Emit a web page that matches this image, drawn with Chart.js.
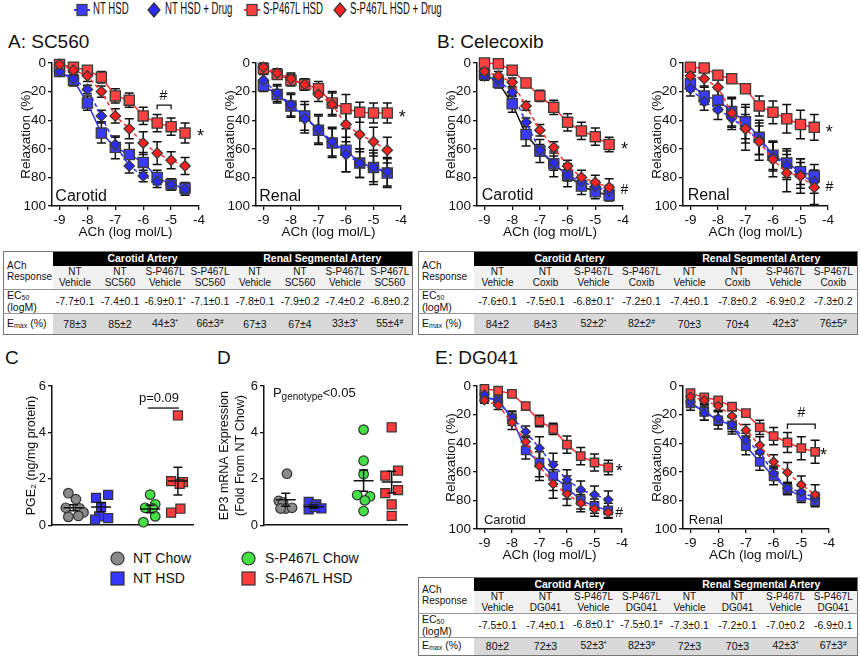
<!DOCTYPE html>
<html>
<head>
<meta charset="utf-8">
<script src="https://cdn.jsdelivr.net/npm/chart.js@4.4.1/dist/chart.umd.min.js"></script>
<style>
  body { margin: 0; width: 860px; height: 657px; position: relative; overflow: hidden; background: #fff;
         font-family: 'Liberation Sans', Arial, sans-serif; color: #111; }
  .box { position: absolute; }
  .ttl { position: absolute; font-size: 19px; white-space: nowrap; }
  .lg  { position: absolute; top: 0px; font-size: 16px; white-space: nowrap; transform: scaleX(0.6); transform-origin: 0 0; }
  .lgi { position: absolute; }
  .dl  { position: absolute; font-size: 14px; white-space: nowrap; }
  table.tb { position: absolute; border-collapse: collapse; table-layout: fixed; border: 1px solid #777;
             font-size: 10px; text-align: center; line-height: 11px; }
  table.tb td { padding: 0; border: none; overflow: hidden; white-space: nowrap; }
  table.tb td.hd { background: #000; color: #fff; font-weight: bold; font-size: 10.5px; }
  table.tb td.lab { text-align: left; padding-left: 3px; background: #fff; }
  table.tb tr.sub td.v { background: #f1f1f1; }
  table.tb tr.ec td { border-top: 1px solid #999; font-size: 10.5px; }
  table.tb tr.em td { border-top: 1px solid #999; font-size: 10.5px; }
  table.tb tr.em td.v { background: #d9d9d9; }
  table.tb .sp { font-size: 7px; position: relative; top: -3px; }
  table.tb .sb { font-size: 7px; position: relative; top: 1px; }
</style>
</head>
<body>

<!-- top legend -->
<svg class="lgi" style="left:74px;top:3px" width="16" height="14"><line x1="0" y1="7" x2="16" y2="7" stroke="#2f2fff" stroke-width="2"/><rect x="3" y="1.5" width="10" height="11" fill="#3b3bff" stroke="#444" stroke-width="1.3"/></svg>
<div class="lg" style="left:93px">NT HSD</div>
<svg class="lgi" style="left:147px;top:2px" width="14" height="16"><polygon points="7,1 13,8 7,15 1,8" fill="#2b2bff" stroke="#333" stroke-width="1.2"/></svg>
<div class="lg" style="left:165px">NT HSD + Drug</div>
<svg class="lgi" style="left:244px;top:3px" width="16" height="14"><line x1="0" y1="7" x2="16" y2="7" stroke="#ff2d2d" stroke-width="2"/><rect x="3" y="1.5" width="10" height="11" fill="#ff4040" stroke="#444" stroke-width="1.3"/></svg>
<div class="lg" style="left:263px">S-P467L HSD</div>
<svg class="lgi" style="left:333px;top:2px" width="14" height="16"><polygon points="7,1 13,8 7,15 1,8" fill="#ff2020" stroke="#333" stroke-width="1.2"/></svg>
<div class="lg" style="left:350px">S-P467L HSD + Drug</div>

<!-- panel titles -->
<div class="ttl" style="left:8px;top:31px">A: SC560</div>
<div class="ttl" style="left:437px;top:31px">B: Celecoxib</div>
<div class="ttl" style="left:5px;top:347px">C</div>
<div class="ttl" style="left:217px;top:347px">D</div>
<div class="ttl" style="left:435px;top:347px">E: DG041</div>

<!-- C / D legend -->
<svg class="lgi" style="left:110px;top:551px" width="15" height="15"><circle cx="7.5" cy="7.5" r="6.5" fill="#8a8a8a" stroke="#333" stroke-width="1.2"/></svg>
<div class="dl" style="left:133px;top:550px">NT Chow</div>
<svg class="lgi" style="left:110px;top:571px" width="15" height="15"><rect x="1" y="1" width="13" height="13" fill="#3535ff" stroke="#333" stroke-width="1.2"/></svg>
<div class="dl" style="left:133px;top:570px">NT HSD</div>
<svg class="lgi" style="left:241px;top:551px" width="15" height="15"><circle cx="7.5" cy="7.5" r="6.5" fill="#44e044" stroke="#333" stroke-width="1.2"/></svg>
<div class="dl" style="left:265px;top:550px">S-P467L Chow</div>
<svg class="lgi" style="left:241px;top:571px" width="15" height="15"><rect x="1" y="1" width="13" height="13" fill="#ff3b3b" stroke="#333" stroke-width="1.2"/></svg>
<div class="dl" style="left:265px;top:570px">S-P467L HSD</div>

<table class="tb" id="tabA"></table>
<table class="tb" id="tabB"></table>
<table class="tb" id="tabE"></table>

<script>
// ============================================================
//  Data
// ============================================================
const DOSE = [-9, -8.5, -8, -7.5, -7, -6.5, -6, -5.5, -5, -4.5];
const X_TICKS = [-9, -8, -7, -6, -5, -4];
const RELAX_TICKS = [0, 20, 40, 60, 80, 100];
const DOT_TICKS = [0, 2, 4, 6];

// A: SC560 — carotid
const A_CAR_NT      = [6, 12, 28, 49, 59, 64, 69.5, 80, 85, 87.5];
const A_CAR_NT_SEM  = [3, 4, 5, 7, 8, 8, 7, 5, 4, 4];
const A_CAR_NTD     = [6, 11, 18.5, 37, 57, 72, 79, 83, 85, 88.5];
const A_CAR_NTD_SEM = [2, 3, 3, 4, 5, 5, 4, 4, 4, 4];
const A_CAR_SP      = [1, 3, 5, 10, 23, 26, 37, 42, 44.5, 49];
const A_CAR_SP_SEM  = [3, 3, 3, 4, 5, 5, 6, 6, 6, 7];
const A_CAR_SPD     = [1, 5, 9, 20, 37, 46, 56, 63, 68, 72];
const A_CAR_SPD_SEM = [2, 3, 4, 4, 5, 7, 8, 8, 6, 6];
// A: SC560 — renal
const A_REN_NT      = [16, 22, 30, 37, 47, 56, 61, 70, 73, 77];
const A_REN_NT_SEM  = [4, 6, 8, 10, 10, 10, 15, 10, 12, 10];
const A_REN_NTD     = [12, 21, 29, 39, 46, 55, 64, 70, 73, 76];
const A_REN_NTD_SEM = [4, 6, 8, 10, 10, 10, 12, 10, 10, 10];
const A_REN_SP      = [4, 8, 12, 15, 18, 28, 32, 34.5, 35, 35];
const A_REN_SP_SEM  = [3, 3, 4, 4, 5, 8, 10, 7, 7, 7];
const A_REN_SPD     = [3, 7, 11, 15, 22, 29, 43, 50, 55, 61];
const A_REN_SPD_SEM = [3, 3, 4, 4, 5, 8, 12, 12, 10, 9];

// B: Celecoxib — carotid
const B_CAR_NT      = [8, 13.5, 28.5, 50, 61.5, 70.5, 78.5, 86, 90, 92.5];
const B_CAR_NT_SEM  = [4, 4, 6, 8, 8, 9, 8, 6, 5, 4];
const B_CAR_NTD     = [9, 12, 20.5, 41.5, 61, 70, 78.5, 83, 86.5, 89.5];
const B_CAR_NTD_SEM = [3, 3, 3, 3, 4, 5, 4, 4, 4, 4];
const B_CAR_SP      = [0, 0.5, 5, 14, 23, 31, 41.5, 47.5, 51.5, 57];
const B_CAR_SP_SEM  = [2, 2, 3, 3, 4, 5, 6, 6, 6, 5];
const B_CAR_SPD     = [6, 9, 13.5, 30, 47, 59, 72, 80, 83.5, 87];
const B_CAR_SPD_SEM = [3, 3, 3, 3, 4, 4, 4, 5, 5, 6];
// B: Celecoxib — renal
const B_REN_NT      = [14.5, 23, 26, 34, 41, 52, 64.5, 70, 76, 79];
const B_REN_NT_SEM  = [5, 6, 8, 10, 12, 12, 10, 10, 9, 8];
const B_REN_NTD     = [18, 27, 32.5, 38.5, 46, 54, 65.5, 71.5, 78.5, 83];
const B_REN_NTD_SEM = [5, 6, 7, 8, 10, 10, 10, 10, 9, 8];
const B_REN_SP      = [3, 3.5, 8.5, 11, 18, 30, 34.5, 39, 43, 45];
const B_REN_SP_SEM  = [2, 2, 2, 2, 2, 7, 8, 10, 10, 9];
const B_REN_SPD     = [9, 11, 17, 35, 46, 55, 67.5, 77, 79, 87];
const B_REN_SPD_SEM = [4, 5, 6, 10, 15, 13, 12, 13, 12, 12];

// E: DG041 — carotid
const E_CAR_NT      = [8, 10, 22.5, 45, 53.5, 63, 71, 80, 84, 87];
const E_CAR_NT_SEM  = [3, 3, 5, 6, 10, 10, 8, 6, 5, 5];
const E_CAR_NTD     = [6, 11, 22, 32, 43.5, 55, 65.5, 72.5, 76, 79.5];
const E_CAR_NTD_SEM = [3, 3, 4, 4, 8, 8, 7, 6, 6, 6];
const E_CAR_SP      = [2, 3.3, 5.5, 14, 24.5, 30, 41, 49, 53.5, 57];
const E_CAR_SP_SEM  = [2, 2, 2, 2, 4, 4, 6, 6, 6, 5];
const E_CAR_SPD     = [10, 13.5, 25.5, 39, 56, 68.5, 75.5, 82, 86, 88.5];
const E_CAR_SPD_SEM = [2, 3, 5, 4, 10, 10, 8, 6, 5, 4];
// E: DG041 — renal
const E_REN_NT      = [12, 18, 24, 27.5, 42, 53, 63, 72, 77.5, 80.5];
const E_REN_NT_SEM  = [5, 6, 6, 6, 6, 6, 6, 4, 4, 4];
const E_REN_NTD     = [11, 19, 22.5, 27, 38, 46, 61, 71.5, 74, 78.5];
const E_REN_NTD_SEM = [4, 5, 5, 5, 5, 5, 5, 4, 4, 4];
const E_REN_SP      = [5, 8, 10, 14.5, 19, 29, 35, 39.5, 43.5, 46];
const E_REN_SP_SEM  = [2, 2, 2, 2, 2, 5, 6, 7, 8, 8];
const E_REN_SPD     = [7.5, 10, 14, 21, 31, 41.5, 53, 60.5, 69, 76];
const E_REN_SPD_SEM = [3, 3, 3, 4, 4, 6, 5, 7, 6, 7];

// C: PGE2, D: EP3 — individual animals (value, x-jitter) + mean/SEM
const GROUP_X = [0.85, 1.95, 3.9, 5.0];
const C_NT_CHOW   = [1.38, 1.12, 0.75, 0.72, 0.55, 0.36, 0.40];
const C_NT_CHOW_J = [-0.2, 0.1, -0.3, 0.25, 0.4, -0.2, 0.2];
const C_NT_HSD    = [1.18, 1.31, 0.78, 0.38, 0.24, 0.31];
const C_NT_HSD_J  = [-0.2, 0.28, 0, -0.08, -0.24, 0.28];
const C_SP_CHOW   = [1.32, 0.90, 0.75, 0.72, 0.38, 0.13];
const C_SP_CHOW_J = [0, 0.2, -0.2, 0.1, 0.2, -0.27];
const C_SP_HSD    = [4.73, 1.90, 1.86, 1.78, 0.54, 0.71];
const C_SP_HSD_J  = [0, -0.27, 0.2, 0.07, -0.27, 0.1];
const C_MEAN = [0.75, 0.78, 0.70, 1.90];
const C_SEM  = [0.13, 0.20, 0.16, 0.60];

const D_NT_CHOW   = [2.22, 1.05, 0.98, 0.72, 0.75, 0.72];
const D_NT_CHOW_J = [0.05, -0.27, -0.1, 0, 0.25, -0.2];
const D_NT_HSD    = [1.00, 0.90, 0.68, 0.72, 0.78];
const D_NT_HSD_J  = [-0.2, 0.1, -0.2, 0.3, 0.05];
const D_SP_CHOW   = [4.12, 2.78, 2.20, 1.30, 1.24, 1.07, 0.61];
const D_SP_CHOW_J = [0, 0, 0, -0.25, 0.25, 0.05, 0];
const D_SP_HSD    = [4.22, 2.35, 2.14, 1.51, 1.38, 0.90, 0.40];
const D_SP_HSD_J  = [0, 0.25, -0.25, 0.25, -0.25, 0, 0];
const D_MEAN = [1.10, 0.80, 1.92, 1.86];
const D_SEM  = [0.28, 0.07, 0.46, 0.47];

// Tables
const TAB_GROUPS = ['Carotid Artery', 'Renal Segmental Artery'];
const A_COLS = ['NT|Vehicle', 'NT|SC560', 'S-P467L|Vehicle', 'S-P467L|SC560', 'NT|Vehicle', 'NT|SC560', 'S-P467L|Vehicle', 'S-P467L|SC560'];
const A_EC50 = ['-7.7±0.1', '-7.4±0.1', '-6.9±0.1*', '-7.1±0.1', '-7.8±0.1', '-7.9±0.2', '-7.4±0.2', '-6.8±0.2'];
const A_EMAX = ['78±3', '85±2', '44±3*', '66±3#', '67±3', '67±4', '33±3*', '55±4#'];
const B_COLS = ['NT|Vehicle', 'NT|Coxib', 'S-P467L|Vehicle', 'S-P467L|Coxib', 'NT|Vehicle', 'NT|Coxib', 'S-P467L|Vehicle', 'S-P467L|Coxib'];
const B_EC50 = ['-7.6±0.1', '-7.5±0.1', '-6.8±0.1*', '-7.2±0.1', '-7.4±0.1', '-7.8±0.2', '-6.9±0.2', '-7.3±0.2'];
const B_EMAX = ['84±2', '84±3', '52±2*', '82±2#', '70±3', '70±4', '42±3*', '76±5#'];
const E_COLS = ['NT|Vehicle', 'NT|DG041', 'S-P467L|Vehicle', 'S-P467L|DG041', 'NT|Vehicle', 'NT|DG041', 'S-P467L|Vehicle', 'S-P467L|DG041'];
const E_EC50 = ['-7.5±0.1', '-7.4±0.1', '-6.8±0.1*', '-7.5±0.1#', '-7.3±0.1', '-7.2±0.1', '-7.0±0.2', '-6.9±0.1'];
const E_EMAX = ['80±2', '72±3', '52±3*', '82±3#', '72±3', '70±3', '42±3*', '67±3#'];

// ============================================================
//  Styles
// ============================================================
const FONT = "'Liberation Sans', Arial, sans-serif";
const INK = '#111';
const BLUE_LN = '#2f2fff', BLUE_SQ = '#3b3bff', BLUE_DM = '#2b2bff';
const RED_LN = '#ff2d2d', RED_SQ = '#ff4040', RED_DM = '#ff2020';
const PT_EDGE = '#3a3a3a';

Chart.defaults.font.family = FONT;
Chart.defaults.color = INK;
Chart.defaults.animation = false;

// ---- error bars, mean/SEM, text and bracket marks ----
const marksPlugin = {
  id: 'marks',
  beforeDatasetsDraw(chart) {
    const { ctx, scales: { x, y } } = chart;
    ctx.save();
    ctx.strokeStyle = INK;
    ctx.lineWidth = 1.5;
    chart.data.datasets.forEach(ds => {
      if (!ds.errors) return;
      ds.data.forEach((p, j) => {
        const px = x.getPixelForValue(p.x);
        const y1 = y.getPixelForValue(p.y - ds.errors[j]);
        const y2 = y.getPixelForValue(p.y + ds.errors[j]);
        ctx.beginPath();
        ctx.moveTo(px, y1); ctx.lineTo(px, y2);
        ctx.moveTo(px - 4.5, y1); ctx.lineTo(px + 4.5, y1);
        ctx.moveTo(px - 4.5, y2); ctx.lineTo(px + 4.5, y2);
        ctx.stroke();
      });
    });
    ctx.restore();
  },
  afterDatasetsDraw(chart, args, opts) {
    const { ctx, scales: { x, y } } = chart;
    ctx.save();
    ctx.strokeStyle = INK;
    ctx.fillStyle = INK;
    ctx.lineWidth = 1.5;
    // mean ± SEM for dot plots
    chart.data.datasets.forEach(ds => {
      if (ds.mean === undefined) return;
      const cx = x.getPixelForValue(ds.center);
      const ym = y.getPixelForValue(ds.mean);
      const y1 = y.getPixelForValue(ds.mean - ds.sem);
      const y2 = y.getPixelForValue(ds.mean + ds.sem);
      ctx.beginPath();
      ctx.moveTo(cx - 10, ym); ctx.lineTo(cx + 10, ym);
      ctx.moveTo(cx, y1); ctx.lineTo(cx, y2);
      ctx.moveTo(cx - 4.5, y1); ctx.lineTo(cx + 4.5, y1);
      ctx.moveTo(cx - 4.5, y2); ctx.lineTo(cx + 4.5, y2);
      ctx.stroke();
    });
    // significance brackets
    (opts.brackets || []).forEach(b => {
      const x1 = x.getPixelForValue(b.x1), x2 = x.getPixelForValue(b.x2);
      const yy = y.getPixelForValue(b.y);
      const d = b.drop || 0;
      ctx.lineWidth = 1.3;
      ctx.beginPath();
      ctx.moveTo(x1, yy + d); ctx.lineTo(x1, yy); ctx.lineTo(x2, yy); ctx.lineTo(x2, yy + d);
      ctx.stroke();
    });
    // text labels
    (opts.texts || []).forEach(t => {
      let px = x.getPixelForValue(t.x);
      const py = y.getPixelForValue(t.y);
      ctx.font = `${t.size || 14}px ${FONT}`;
      ctx.textAlign = t.align || 'center';
      ctx.textBaseline = 'middle';
      ctx.fillText(t.t, px, py);
      if (t.sub) {
        px += ctx.measureText(t.t).width;
        ctx.font = `${t.subSize}px ${FONT}`;
        ctx.textAlign = 'left';
        ctx.fillText(t.sub, px, py + 4);
        px += ctx.measureText(t.sub).width;
        ctx.font = `${t.size}px ${FONT}`;
        ctx.fillText(t.after, px, py);
      }
    });
    ctx.restore();
  }
};
Chart.register(marksPlugin);

function makeCanvas(left, top, w, h) {
  const div = document.createElement('div');
  div.className = 'box';
  div.style.cssText = `left:${left}px;top:${top}px;width:${w}px;height:${h}px`;
  const cv = document.createElement('canvas');
  cv.width = w; cv.height = h;
  cv.style.width = w + 'px'; cv.style.height = h + 'px';
  div.appendChild(cv);
  document.body.appendChild(div);
  return cv;
}

function axisStyle(ticks, size) {
  return {
    afterBuildTicks: a => { a.ticks = ticks.map(v => ({ value: v })); },
    grid: { drawOnChartArea: false, drawTicks: true, tickLength: 4, color: INK, lineWidth: 1.3 },
    border: { color: INK, width: 1.5 },
    ticks: { font: { size: size }, color: INK, padding: 2, maxRotation: 0, autoSkip: false },
  };
}

// ============================================================
//  Dose-response charts (relaxation vs ACh)
// ============================================================
function series(vals, errs, line, fill, style, r, dash, order) {
  return {
    data: DOSE.map((x, i) => ({ x, y: vals[i] })),
    errors: errs,
    showLine: true,
    borderColor: line,
    borderWidth: 1.5,
    borderDash: dash,
    pointStyle: style,
    pointRadius: r,
    pointBackgroundColor: fill,
    pointBorderColor: PT_EDGE,
    pointBorderWidth: 1.3,
    clip: false,
    order: order,
  };
}

function doseChart(area, d, o) {
  const [l, t, r, b] = area;
  const cv = makeCanvas(l - 52, t - 12, r - l + 70, b - t + 48);
  const sq = o.small ? 6 : 7.2;
  const dm = o.small ? 4.6 : 5.2;
  return new Chart(cv, {
    type: 'scatter',
    data: {
      datasets: [
        series(d[6], d[7], RED_LN, RED_DM, 'rectRot', dm, [4, 3], 1),
        series(d[2], d[3], BLUE_LN, BLUE_DM, 'rectRot', dm, [4, 3], 2),
        series(d[4], d[5], RED_LN, RED_SQ, 'rect', sq, [], 3),
        series(d[0], d[1], o.ntLine || BLUE_LN, BLUE_SQ, 'rect', sq, [], 4),
      ]
    },
    options: {
      responsive: false,
      animation: false,
      layout: { padding: { top: 12, right: 18, left: 0, bottom: 0 } },
      plugins: {
        legend: { display: false },
        tooltip: { enabled: false },
        marks: { texts: o.texts, brackets: o.brackets || [] }
      },
      scales: {
        x: {
          type: 'linear', min: -9.27, max: -4,
          ...axisStyle(X_TICKS, 13.5),
          title: { display: true, text: 'ACh (log mol/L)', font: { size: 13.5 }, color: INK, padding: { top: 0, bottom: 2 } },
          afterFit: a => { a.height = 36; }
        },
        y: {
          type: 'linear', min: 0, max: 100, reverse: true,
          ...axisStyle(RELAX_TICKS, 13.5),
          title: { display: true, text: 'Relaxation (%)', font: { size: 13.5 }, color: INK, padding: { top: 18, bottom: 0 } },
          afterFit: a => { a.width = 52; }
        }
      }
    }
  });
}

doseChart([52, 63, 199, 206],
  [A_CAR_NT, A_CAR_NT_SEM, A_CAR_NTD, A_CAR_NTD_SEM, A_CAR_SP, A_CAR_SP_SEM, A_CAR_SPD, A_CAR_SPD_SEM],
  { texts: [{ x: -9.15, y: 93.5, t: 'Carotid', size: 16, align: 'left' },
            { x: -3.95, y: 52, t: '*', size: 18 },
            { x: -5.28, y: 23, t: '#', size: 14 }],
    brackets: [{ x1: -5.5, x2: -5, y: 29.5, drop: 4 }] });

doseChart([256, 63, 401, 206],
  [A_REN_NT, A_REN_NT_SEM, A_REN_NTD, A_REN_NTD_SEM, A_REN_SP, A_REN_SP_SEM, A_REN_SPD, A_REN_SPD_SEM],
  { texts: [{ x: -9.15, y: 93.5, t: 'Renal', size: 16, align: 'left' },
            { x: -3.95, y: 38.5, t: '*', size: 18 }] });

doseChart([477, 63, 623, 206],
  [B_CAR_NT, B_CAR_NT_SEM, B_CAR_NTD, B_CAR_NTD_SEM, B_CAR_SP, B_CAR_SP_SEM, B_CAR_SPD, B_CAR_SPD_SEM],
  { ntLine: INK,
    texts: [{ x: -9.1, y: 92.5, t: 'Carotid', size: 16, align: 'left' },
            { x: -3.95, y: 61, t: '*', size: 18 },
            { x: -3.95, y: 89, t: '#', size: 14 }] });

doseChart([683, 63, 828, 206],
  [B_REN_NT, B_REN_NT_SEM, B_REN_NTD, B_REN_NTD_SEM, B_REN_SP, B_REN_SP_SEM, B_REN_SPD, B_REN_SPD_SEM],
  { texts: [{ x: -9.1, y: 92.5, t: 'Renal', size: 16, align: 'left' },
            { x: -3.95, y: 49, t: '*', size: 18 },
            { x: -3.95, y: 87, t: '#', size: 14 }] });

doseChart([477, 386, 622, 529],
  [E_CAR_NT, E_CAR_NT_SEM, E_CAR_NTD, E_CAR_NTD_SEM, E_CAR_SP, E_CAR_SP_SEM, E_CAR_SPD, E_CAR_SPD_SEM],
  { small: true,
    texts: [{ x: -9.02, y: 93.7, t: 'Carotid', size: 13, align: 'left' },
            { x: -4.1, y: 60, t: '*', size: 18 },
            { x: -4.1, y: 89, t: '#', size: 14 }] });

doseChart([683, 386, 829, 529],
  [E_REN_NT, E_REN_NT_SEM, E_REN_NTD, E_REN_NTD_SEM, E_REN_SP, E_REN_SP_SEM, E_REN_SPD, E_REN_SPD_SEM],
  { small: true,
    texts: [{ x: -9.06, y: 93.7, t: 'Renal', size: 13, align: 'left' },
            { x: -4.2, y: 49, t: '*', size: 18 },
            { x: -5.0, y: 19, t: '#', size: 14 }],
    brackets: [{ x1: -5.5, x2: -4.5, y: 26.6, drop: 5 }] });

// ============================================================
//  Dot plots (C, D)
// ============================================================
function dots(vals, jit, g, style, r, fill, mean, sem) {
  return {
    data: vals.map((v, i) => ({ x: GROUP_X[g] + jit[i], y: v })),
    pointStyle: style,
    pointRadius: r,
    pointBackgroundColor: fill,
    pointBorderColor: '#333',
    pointBorderWidth: 1.2,
    clip: false,
    center: GROUP_X[g],
    mean: mean[g],
    sem: sem[g],
  };
}

function dotChart(area, sets, o) {
  const [l, t, r, b] = area;
  const cv = makeCanvas(l - 52, t - 10, r - l + 60, b - t + 14);
  return new Chart(cv, {
    type: 'scatter',
    data: { datasets: sets },
    options: {
      responsive: false,
      animation: false,
      layout: { padding: { top: 10, right: 8, left: 0, bottom: 0 } },
      plugins: {
        legend: { display: false },
        tooltip: { enabled: false },
        marks: { texts: o.texts, brackets: o.brackets || [] }
      },
      scales: {
        x: {
          type: 'linear', min: 0, max: 5.6,
          ticks: { display: false },
          grid: { display: false },
          border: { color: INK, width: 1.5 },
          afterFit: a => { a.height = 4; }
        },
        y: {
          type: 'linear', min: 0, max: 6,
          ...axisStyle(DOT_TICKS, 13),
          title: { display: true, text: o.yTitle, font: { size: 12.5, lineHeight: 1.3 }, color: INK, padding: { top: o.titlePad, bottom: 0 } },
          afterFit: a => { a.width = 52; }
        }
      }
    }
  });
}

dotChart([52, 386, 193, 531], [
  dots(C_NT_CHOW, C_NT_CHOW_J, 0, 'circle', 4.8, '#8a8a8a', C_MEAN, C_SEM),
  dots(C_NT_HSD, C_NT_HSD_J, 1, 'rect', 6.4, '#3535ff', C_MEAN, C_SEM),
  dots(C_SP_CHOW, C_SP_CHOW_J, 2, 'circle', 4.8, '#44e044', C_MEAN, C_SEM),
  dots(C_SP_HSD, C_SP_HSD_J, 3, 'rect', 6.4, '#ff3b3b', C_MEAN, C_SEM),
], {
  yTitle: 'PGE₂ (ng/mg protein)', titlePad: 23,
  texts: [{ x: 4.25, y: 5.46, t: 'p=0.09', size: 13 }],
  brackets: [{ x1: 3.81, x2: 5.04, y: 5.05 }]
});

dotChart([264, 386, 407, 531], [
  dots(D_NT_CHOW, D_NT_CHOW_J, 0, 'circle', 4.8, '#8a8a8a', D_MEAN, D_SEM),
  dots(D_NT_HSD, D_NT_HSD_J, 1, 'rect', 6.4, '#3535ff', D_MEAN, D_SEM),
  dots(D_SP_CHOW, D_SP_CHOW_J, 2, 'circle', 4.8, '#44e044', D_MEAN, D_SEM),
  dots(D_SP_HSD, D_SP_HSD_J, 3, 'rect', 6.4, '#ff3b3b', D_MEAN, D_SEM),
], {
  yTitle: ['EP3 mRNA Expression', '(Fold From NT Chow)'], titlePad: 4.5,
  texts: [{ x: 0.35, y: 5.67, t: 'P', sub: 'genotype', subSize: 10, after: '<0.05', size: 13, align: 'left' }]
});

// ============================================================
//  Tables
// ============================================================
function cellText(s) {
  return s.replace(/([*#])$/, '<span class="sp">$1</span>');
}

function buildTable(id, g, cols, ec50, emax) {
  const el = document.getElementById(id);
  el.style.left = g.left + 'px';
  el.style.top = g.top + 'px';
  el.style.width = g.width + 'px';
  let html = `<colgroup><col style="width:${g.first}px">`;
  for (let i = 0; i < 8; i++) html += '<col>';
  html += '</colgroup>';
  html += `<tr style="height:${g.rows[0]}px"><td class="lab" rowspan="2">ACh<br>Response</td>` +
          `<td class="hd" colspan="4">${TAB_GROUPS[0]}</td><td class="hd" colspan="4">${TAB_GROUPS[1]}</td></tr>`;
  html += `<tr class="sub" style="height:${g.rows[1]}px">` +
          cols.map(c => `<td class="v">${c.replace('|', '<br>')}</td>`).join('') + '</tr>';
  html += `<tr class="ec" style="height:${g.rows[2]}px"><td class="lab">EC<span class="sb">50</span><br>(logM)</td>` +
          ec50.map(v => `<td class="v">${cellText(v)}</td>`).join('') + '</tr>';
  html += `<tr class="em" style="height:${g.rows[3]}px"><td class="lab">E<span class="sb">max</span> (%)</td>` +
          emax.map(v => `<td class="v">${cellText(v)}</td>`).join('') + '</tr>';
  el.innerHTML = html;
}

buildTable('tabA', { left: 3, top: 251, width: 410, first: 49, rows: [14, 24, 24, 21] }, A_COLS, A_EC50, A_EMAX);
buildTable('tabB', { left: 418, top: 251, width: 440, first: 55, rows: [14, 24, 24, 21] }, B_COLS, B_EC50, B_EMAX);
buildTable('tabE', { left: 418, top: 577, width: 440, first: 55, rows: [13, 22, 20, 18] }, E_COLS, E_EC50, E_EMAX);
</script>
</body>
</html>
